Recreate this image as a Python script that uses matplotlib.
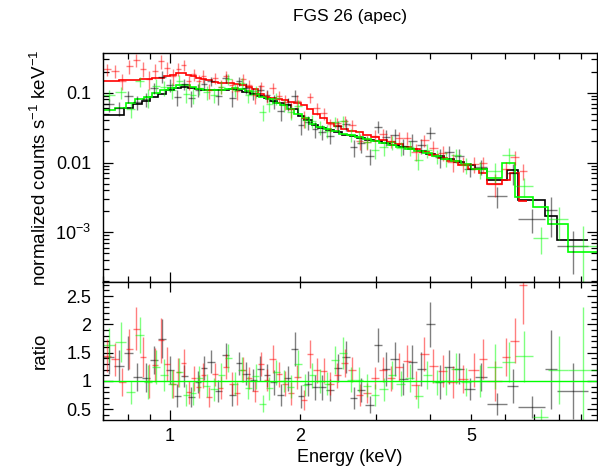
import numpy as np
import matplotlib
matplotlib.use("Agg")
import matplotlib.pyplot as plt
from matplotlib.ticker import FixedLocator, FuncFormatter, NullFormatter, MultipleLocator, LogLocator

plt.rcParams['font.family'] = ['Liberation Sans', 'DejaVu Sans']
plt.rcParams['mathtext.fontset'] = 'custom'
plt.rcParams['mathtext.rm'] = 'Liberation Sans'
plt.rcParams['mathtext.it'] = 'Liberation Sans:italic'
plt.rcParams['mathtext.bf'] = 'Liberation Sans:bold'

title = "FGS 26 (apec)"
xlabel = "Energy (keV)"
ylabel_top = "normalized counts s$^{-1}$ keV$^{-1}$"
ylabel_bot = "ratio"

# ---------------- black dataset ----------------
black_edges = [0.70, 0.74, 0.78, 0.82, 0.86, 0.90, 0.94, 0.98, 1.02, 1.06, 1.10, 1.14, 1.18, 1.22,
               1.27, 1.32, 1.37, 1.42, 1.47, 1.53, 1.59, 1.65, 1.71, 1.77, 1.84, 1.91, 1.98, 2.05,
               2.13, 2.21, 2.30, 2.40, 2.50, 2.61, 2.72, 2.84, 2.97, 3.10, 3.24, 3.40, 3.56, 3.74,
               3.92, 4.12, 4.33, 4.56, 4.82, 5.10, 5.45, 6.04, 6.43, 7.42, 7.89, 9.35]
black_model = [0.048, 0.048, 0.060, 0.068, 0.076, 0.086, 0.097, 0.108, 0.118, 0.122, 0.116, 0.112,
               0.110, 0.109, 0.109, 0.110, 0.112, 0.111, 0.104, 0.097, 0.089, 0.083, 0.077, 0.072,
               0.066, 0.058, 0.047, 0.040, 0.034, 0.031, 0.029, 0.027, 0.025, 0.0237, 0.0224, 0.0212,
               0.0201, 0.0190, 0.0177, 0.0166, 0.0155, 0.0145, 0.0134, 0.0123, 0.0113, 0.0103, 0.0093,
               0.0081, 0.0057, 0.0078, 0.0029, 0.0017, 0.00078]
black_ratio = [1.42, 1.26, 1.49, 1.07, 1.06, 1.37, 1.75, 1.19, 0.74, 1.09, 0.72, 0.98, 1.23, 1.34,
               0.82, 1.46, 0.75, 1.31, 1.13, 1.02, 1.22, 1.10, 0.98, 0.75, 1.05, 1.57, 0.73, 0.95,
               0.89, 0.89, 0.84, 1.23, 1.42, 0.70, 0.84, 0.58, 1.63, 1.22, 1.39, 1.04, 1.33, 1.21,
               2.00, 0.98, 1.25, 1.22, 0.86, 1.07, 0.59, 0.91, 0.54, 1.21, 0.82]
black_err = [0.30, 0.28, 0.30, 0.25, 0.25, 0.25, 0.35, 0.25,
             0.20, 0.20, 0.18, 0.20, 0.22, 0.20, 0.20, 0.22, 0.20, 0.20, 0.20, 0.20, 0.22, 0.20,
             0.22, 0.20, 0.22, 0.30,
             0.20, 0.22, 0.22, 0.22, 0.20, 0.25, 0.28, 0.20, 0.22, 0.15,
             0.30, 0.30, 0.30, 0.28, 0.30, 0.30, 0.40, 0.30, 0.30, 0.28, 0.20, 0.25,
             0.20, 0.30, 0.20, 0.70, 0.50]

# ---------------- red dataset ----------------
red_edges = [0.70, 0.73, 0.76, 0.79, 0.82, 0.85, 0.88, 0.91, 0.94, 0.97, 1.00, 1.03, 1.06, 1.09,
             1.12, 1.15, 1.18, 1.21, 1.25, 1.29, 1.33, 1.37, 1.41, 1.45, 1.50, 1.55, 1.60, 1.65,
             1.70, 1.76, 1.82, 1.88, 1.94, 2.01, 2.08, 2.15, 2.23, 2.31, 2.40, 2.49, 2.59, 2.70,
             2.81, 2.93, 3.05, 3.18, 3.32, 3.47, 3.63, 3.80, 3.98, 4.18, 4.40, 4.65, 4.92, 5.20,
             5.45, 5.90, 6.15, 6.45, 6.75]
red_model = [0.149, 0.149, 0.150, 0.152, 0.154, 0.156, 0.158, 0.161, 0.165, 0.172, 0.182, 0.193,
             0.190, 0.182, 0.175, 0.165, 0.158, 0.150, 0.143, 0.139, 0.137, 0.136, 0.134, 0.129,
             0.122, 0.112, 0.095, 0.088, 0.084, 0.080, 0.078, 0.074, 0.071, 0.066, 0.058, 0.050,
             0.043, 0.037, 0.033, 0.030, 0.0285, 0.0272, 0.0250, 0.0230, 0.0212, 0.0196, 0.0182,
             0.0168, 0.0154, 0.0142, 0.0129, 0.0117, 0.0105, 0.0093, 0.0080, 0.0070, 0.0050,
             0.0057, 0.0070, 0.0028]
red_ratio = [1.45, 1.38, 0.98, 1.57, 1.92, 1.42, 1.00, 1.28, 1.72, 1.30, 0.95, 1.15, 1.32, 0.80,
             1.05, 0.90, 1.10, 0.72, 1.12, 0.88, 1.25, 0.95, 0.78, 1.20, 1.05, 0.82, 1.30, 1.02,
             1.39, 1.12, 0.95, 0.78, 1.07, 0.66, 1.48, 1.19, 1.18, 0.95, 1.10, 1.32, 1.20, 0.75,
             0.79, 1.05, 1.20, 1.05, 1.25, 1.35, 0.93, 1.47, 1.27, 1.18, 0.98, 1.04, 1.19, 1.39,
             1.00, 1.42, 1.71, 2.70]
red_err = [0.30, 0.30, 0.25, 0.35, 0.38, 0.35, 0.30, 0.30, 0.40, 0.30,
           0.25, 0.25, 0.25, 0.20, 0.22, 0.20, 0.22, 0.18, 0.20, 0.20, 0.22, 0.20, 0.20, 0.22,
           0.20, 0.20, 0.22, 0.20,
           0.25, 0.22, 0.22, 0.20, 0.22, 0.18, 0.25, 0.22, 0.22, 0.20, 0.22, 0.25,
           0.22, 0.20, 0.18, 0.20, 0.22, 0.22, 0.25, 0.28, 0.25, 0.30, 0.30, 0.28, 0.28, 0.25,
           0.30, 0.35,
           0.35, 0.34, 0.40, 0.70]

# ---------------- green dataset ----------------
green_edges = [0.70, 0.745, 0.79, 0.83, 0.87, 0.91, 0.95, 0.99, 1.03, 1.07, 1.11, 1.15, 1.19, 1.24,
               1.29, 1.34, 1.39, 1.44, 1.49, 1.55, 1.61, 1.67, 1.73, 1.80, 1.87, 1.94, 2.02, 2.10,
               2.18, 2.27, 2.36, 2.46, 2.57, 2.68, 2.80, 2.93, 3.06, 3.20, 3.35, 3.51, 3.68, 3.86,
               4.05, 4.26, 4.48, 4.72, 5.00, 5.45, 5.90, 6.30, 6.94, 7.54, 8.40, 9.80]
green_model = [0.0565, 0.060, 0.072, 0.080, 0.088, 0.100, 0.108, 0.116, 0.130, 0.128, 0.120, 0.113,
               0.111, 0.110, 0.110, 0.112, 0.115, 0.114, 0.105, 0.097, 0.088, 0.080, 0.072, 0.066,
               0.058, 0.050, 0.043, 0.036, 0.032, 0.030, 0.028, 0.026, 0.0245, 0.0230, 0.0216,
               0.0204, 0.0193, 0.0180, 0.0169, 0.0157, 0.0147, 0.0136, 0.0125, 0.0114, 0.0104,
               0.0094, 0.0080, 0.0060, 0.0097, 0.0032, 0.0023, 0.0013, 0.00053]
green_ratio = [1.64, 1.69, 0.80, 1.81, 0.98, 1.25, 1.10, 0.95, 1.15, 0.75, 0.78, 1.05, 0.92, 0.85,
               1.10, 1.40, 0.95, 1.20, 0.88, 1.08, 0.60, 0.87, 1.15, 1.00, 0.90, 1.30, 0.93, 1.10,
               1.00, 0.95, 1.37, 1.49, 1.02, 1.02, 0.92, 0.75, 0.85, 1.10, 0.95, 1.05, 0.73, 1.10,
               0.98, 1.00, 1.22, 0.98, 1.00, 1.25, 1.34, 1.44, 0.36, 1.20, 1.20]
green_err = [0.30, 0.35, 0.20, 0.32, 0.30, 0.30, 0.28, 0.25,
             0.25, 0.20, 0.20, 0.22, 0.20, 0.20, 0.22, 0.25, 0.20, 0.22, 0.20, 0.22, 0.15, 0.20,
             0.22, 0.20, 0.20, 0.25,
             0.20, 0.22, 0.22, 0.20, 0.25, 0.28, 0.22, 0.22, 0.20, 0.20, 0.20, 0.25, 0.22, 0.25,
             0.20, 0.25, 0.22, 0.25, 0.28, 0.25,
             0.28, 0.40, 0.35, 0.45, 0.15, 0.60, 1.10]

xlim = (0.70, 9.77)
ylim_top = (1.94e-4, 0.367)
ylim_bot = (0.31, 2.75)

fig = plt.figure(figsize=(5.98, 4.67), dpi=100)
L, W = 103.3 / 598, (596.7 - 103.3) / 598
ax1 = fig.add_axes([L, 1 - 282 / 467, W, (282 - 53.3) / 467])
ax2 = fig.add_axes([L, 1 - 420 / 467, W, (420 - 282) / 467], sharex=ax1)


def draw(edges, model, ratio, err, color):
    edges = np.asarray(edges, float)
    n = min(len(edges) - 1, len(model), len(ratio), len(err))
    edges = edges[:n + 1]
    model = np.asarray(model[:n], float)
    ratio = np.asarray(ratio[:n], float)
    err = np.asarray(err[:n], float)
    cen = 0.5 * (edges[:-1] + edges[1:])
    hw = 0.5 * np.diff(edges)
    data = ratio * model
    derr = err * model
    lo = np.minimum(derr, data * 0.995)
    ax1.errorbar(cen, data, xerr=hw, yerr=[lo, derr], fmt='none', ecolor=color,
                 elinewidth=1.0, alpha=0.5, capsize=0)
    ax1.stairs(model, edges, color=color, lw=1.2, baseline=None)
    rlo = np.minimum(err, ratio - 0.001)
    ax2.errorbar(cen, ratio, xerr=hw, yerr=[rlo, err], fmt='none', ecolor=color,
                 elinewidth=1.0, alpha=0.5, capsize=0)


draw(black_edges, black_model, black_ratio, black_err, 'black')
draw(red_edges, red_model, red_ratio, red_err, '#ff0000')
draw(green_edges, green_model, green_ratio, green_err, '#00ff00')
ax2.axhline(1.0, color='#00ff00', lw=1.0)

ax1.set_xscale('log')
ax1.set_yscale('log')
ax1.set_xlim(*xlim)
ax1.set_ylim(*ylim_top)
ax2.set_ylim(*ylim_bot)

major_x = [1.0]
minor_x = [0.7, 0.8, 0.9, 2, 3, 4, 5, 6, 7, 8, 9]
xlabels = {2: '2', 5: '5'}
for ax in (ax1, ax2):
    ax.xaxis.set_major_locator(FixedLocator(major_x))
    ax.xaxis.set_minor_locator(FixedLocator(minor_x))
    ax.tick_params(which='both', direction='in', top=True, right=True, width=0.9,
                   labelsize=13, colors='black')
    ax.tick_params(which='major', length=7)
    ax.tick_params(which='minor', length=4.5)
    ax.tick_params(axis='y', which='both', pad=8.5)
    for s in ax.spines.values():
        s.set_linewidth(1.0)

ax1.tick_params(axis='x', which='both', labelbottom=False)
ax2.xaxis.set_major_formatter(FuncFormatter(lambda v, p: '1'))
ax2.xaxis.set_minor_formatter(FuncFormatter(lambda v, p: xlabels.get(int(round(v)), '') if abs(v - round(v)) < 1e-6 else ''))
ax2.tick_params(axis='x', which='both', pad=6)

ytop_labels = {-1: '0.1', -2: '0.01', -3: '$10^{-3}$'}
ax1.yaxis.set_major_locator(LogLocator(base=10, numticks=10))
ax1.yaxis.set_minor_locator(LogLocator(base=10, subs=np.arange(2, 10), numticks=20))
ax1.yaxis.set_major_formatter(FuncFormatter(lambda v, p: ytop_labels.get(int(round(np.log10(v))), '')))
ax1.yaxis.set_minor_formatter(NullFormatter())

ax2.yaxis.set_major_locator(MultipleLocator(0.5))
ax2.yaxis.set_minor_locator(MultipleLocator(0.1))
ax2.yaxis.set_major_formatter(FuncFormatter(lambda v, p: ('%g' % v)))

fig.text(350 / 598, 1 - 17 / 467, title, ha='center', va='center', fontsize=12.5)
fig.text(350 / 598, 1 - 458 / 467, xlabel, ha='center', va='center', fontsize=13)
fig.text(40 / 598, 1 - 167.5 / 467, ylabel_top, ha='center', va='center', rotation=90, fontsize=13.5)
fig.text(40 / 598, 1 - 351 / 467, ylabel_bot, ha='center', va='center', rotation=90, fontsize=13.5)

fig.savefig('out.png', dpi=100)
